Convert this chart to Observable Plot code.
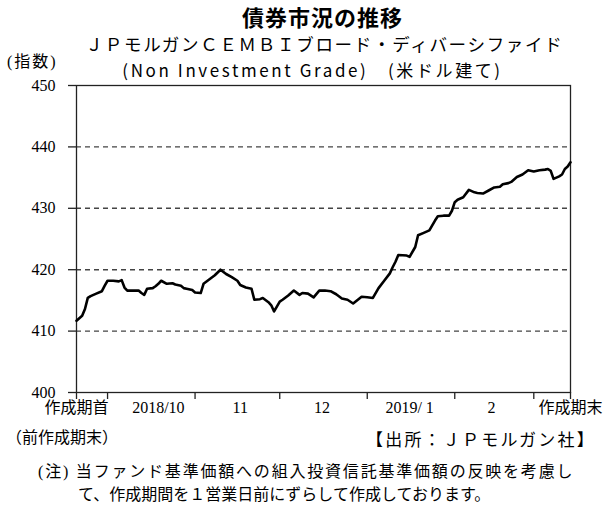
<!DOCTYPE html>
<html>
<head>
<meta charset="utf-8">
<script src="https://cdn.jsdelivr.net/npm/d3@7"></script>
<script src="https://cdn.jsdelivr.net/npm/@observablehq/plot@0.6"></script>
<style>
  body { margin: 0; background: #fff; }
  #wrap { position: relative; width: 609px; height: 507px; overflow: hidden; }
  .t { position: absolute; white-space: nowrap; color: #000; }
  .sans { font-family: "Noto Sans CJK JP", sans-serif; }
  .serif { font-family: "Liberation Serif", "Noto Sans CJK JP", serif; }
</style>
</head>
<body>
<div id="wrap">
  <div id="chart" style="position:absolute;left:0;top:0;"></div>
  <div class="t sans" style="left:0;width:609px;text-align:center;top:3px;font-size:22px;font-weight:bold;line-height:26px;margin-left:18px;letter-spacing:1px;">債券市況の推移</div>
  <div class="t sans" style="left:0;width:609px;text-align:center;top:34px;font-size:17.5px;line-height:20px;margin-left:20px;letter-spacing:1.7px;">ＪＰモルガンＣＥＭＢＩブロード・ディバーシファイド</div>
  <div class="t sans" style="left:0;width:609px;text-align:center;top:60px;font-size:17px;line-height:20px;margin-left:8px;letter-spacing:2.6px;">(Non Investment Grade)　(米ドル建て)</div>
  <div class="t serif" style="left:7px;top:52px;font-size:16px;line-height:20px;letter-spacing:2px;">(指数)</div>
  <div class="t serif" style="left:6px;top:428px;font-size:16px;line-height:20px;">（前作成期末）</div>
  <div class="t serif" style="left:366px;top:431px;font-size:17px;line-height:20px;letter-spacing:2.2px;">【出所：ＪＰモルガン社】</div>
  <div class="t serif" style="left:38px;top:460px;font-size:16px;line-height:23px;"><span style="letter-spacing:1.8px;">(注) 当ファンド基準価額への組入投資信託基準価額の反映を考慮し</span><br><span style="padding-left:40px;">て、作成期間を１営業日前にずらして作成しております。</span></div>
</div>
<script>
const dates = ["2018-09-20","2018-09-22","2018-09-23","2018-09-24","2018-09-25","2018-09-27","2018-09-29","2018-09-30",
"2018-10-01","2018-10-03","2018-10-05","2018-10-06","2018-10-07","2018-10-08","2018-10-10","2018-10-12","2018-10-13","2018-10-14","2018-10-15","2018-10-17","2018-10-18","2018-10-19","2018-10-20","2018-10-22","2018-10-24","2018-10-25","2018-10-27","2018-10-28","2018-10-29","2018-10-31",
"2018-11-01","2018-11-03","2018-11-04","2018-11-06","2018-11-08","2018-11-10","2018-11-12","2018-11-14","2018-11-16","2018-11-17","2018-11-19","2018-11-21","2018-11-22","2018-11-24","2018-11-25","2018-11-27","2018-11-28","2018-11-29",
"2018-12-01","2018-12-02","2018-12-04","2018-12-06","2018-12-08","2018-12-09","2018-12-11","2018-12-13","2018-12-15","2018-12-17","2018-12-19","2018-12-21","2018-12-23","2018-12-25","2018-12-27","2018-12-30",
"2019-01-01","2019-01-03","2019-01-05","2019-01-07","2019-01-09","2019-01-10","2019-01-11","2019-01-12","2019-01-15","2019-01-16","2019-01-18","2019-01-19","2019-01-21","2019-01-23","2019-01-25","2019-01-26","2019-01-28","2019-01-30","2019-01-31",
"2019-02-01","2019-02-02","2019-02-04","2019-02-06","2019-02-08","2019-02-09","2019-02-11","2019-02-13","2019-02-15","2019-02-17","2019-02-18","2019-02-20","2019-02-21","2019-02-23","2019-02-25","2019-02-27",
"2019-03-01","2019-03-03","2019-03-05","2019-03-06","2019-03-07","2019-03-08","2019-03-10","2019-03-11","2019-03-12","2019-03-13","2019-03-14"];
const values = [411.7,412.5,413.6,415.4,415.7,416.1,416.5,417.4,
418.2,418.2,418.1,418.3,417.1,416.6,416.6,416.6,416.2,415.9,416.9,417.0,417.3,417.7,418.2,417.7,417.8,417.6,417.4,417.0,416.9,416.7,
416.3,416.2,417.7,418.4,419.1,420.0,419.3,418.8,418.2,417.5,417.1,416.9,415.1,415.2,415.4,414.7,414.2,413.2,
414.8,415.1,415.8,416.6,415.9,416.2,416.1,415.5,416.6,416.6,416.5,416.0,415.3,415.1,414.5,415.6,
415.5,415.4,417.0,418.2,419.4,420.4,421.3,422.4,422.3,422.1,423.7,425.6,426.0,426.4,428.0,428.7,428.8,428.8,429.6,
431.0,431.4,431.8,433.0,432.6,432.5,432.4,432.9,433.4,433.5,433.9,434.1,434.3,435.1,435.5,436.2,
436.0,436.2,436.3,436.4,436.1,434.8,435.2,435.5,436.4,436.8,437.5];

const periodStart = "2018-09-20";
const periodEnd = "2019-03-14";
const monthTicks = ["2018-09-20","2018-10-01","2018-11-01","2018-12-01","2019-01-01","2019-02-01","2019-03-01","2019-03-14"];
const xLabelDates = ["2018-09-20","2018-10-19","2018-11-17","2018-12-16","2019-01-16","2019-02-14","2019-03-14"];
const xLabels = ["作成期首","2018/10","11","12","2019/ 1","2","作成期末"];
const yTicks = [400,410,420,430,440,450];
const gridValues = [410,420,430,440];

const P = d => new Date(d + "T00:00:00Z");
const data = dates.map((d,i) => ({date: P(d), value: values[i]}));
const labelData = xLabelDates.map((d,i) => ({date: P(d), text: xLabels[i]}));

const chart = Plot.plot({
  width: 609,
  height: 445,
  marginTop: 85,
  marginBottom: 53,
  marginLeft: 76,
  marginRight: 39,
  style: {fontFamily: '"Liberation Serif", "Noto Sans CJK JP", serif', fontSize: "16px", color: "#000", background: "transparent", overflow: "visible"},
  x: {type: "utc", domain: [P(periodStart), P(periodEnd)]},
  y: {domain: [400, 450]},
  marks: [
    Plot.ruleY(gridValues, {stroke: "#444", strokeWidth: 1.4, strokeDasharray: "5,4"}),
    Plot.axisY({ticks: yTicks, tickSize: 8, tickPadding: 13, tickFormat: d => String(d), fontSize: 16, stroke: "#222", strokeWidth: 1.3, strokeOpacity: 1, label: null}),
    Plot.axisX({ticks: monthTicks.map(P), tickSize: 7, tickFormat: () => "", stroke: "#222", strokeWidth: 1.3, strokeOpacity: 1, label: null}),
    Plot.frame({stroke: "#222", strokeWidth: 1.3}),
    Plot.line(data, {x: "date", y: "value", stroke: "#000", strokeWidth: 2.6, strokeLinejoin: "round", curve: "linear"}),
    Plot.text(labelData, {x: "date", text: "text", frameAnchor: "bottom", dy: 20, fontSize: 16, fill: "#000"})
  ]
});
document.getElementById("chart").appendChild(chart);
</script>
</body>
</html>
